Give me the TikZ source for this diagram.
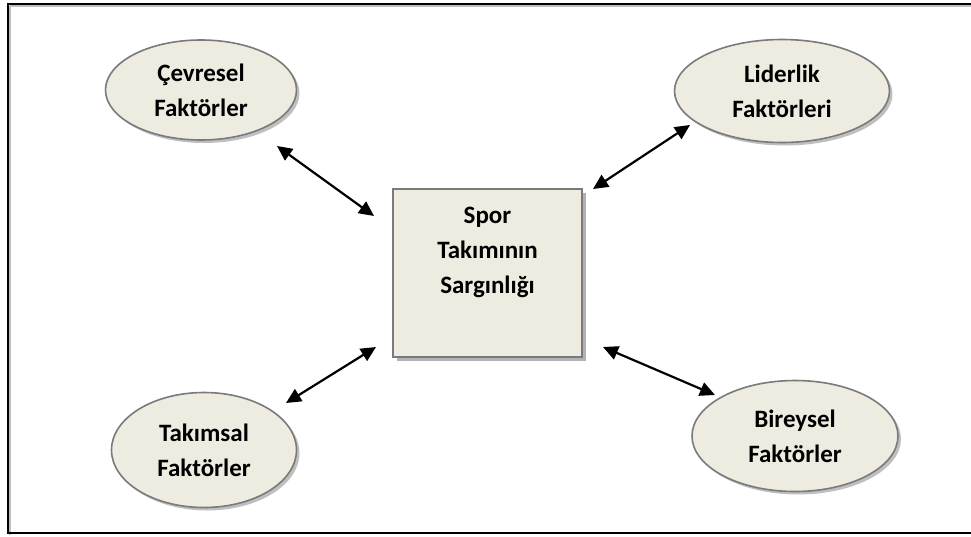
\documentclass[tikz,border=0pt]{standalone}
\usepackage{fontspec}
\setmainfont{Carlito}
\usetikzlibrary{arrows.meta,shapes.geometric,shadows}
\definecolor{beige}{HTML}{EEECE1}
\definecolor{edge}{HTML}{7A7A7A}
\tikzset{
  factor/.style={ellipse, draw=edge, line width=1.6pt, fill=beige, inner sep=0pt,
    align=center, font=\fontsize{25}{35}\selectfont\bfseries,
    drop shadow={shadow xshift=3pt, shadow yshift=-3pt, fill=black, opacity=0.25}},
  corebox/.style={rectangle, draw=edge, line width=1.8pt, fill=beige, inner sep=0pt,
    drop shadow={shadow xshift=4pt, shadow yshift=-4pt, fill=black, opacity=0.3}},
  corelabel/.style={align=center, font=\fontsize{25}{35}\selectfont\bfseries},
  dbl/.style={line width=2.2pt, {Triangle[length=15pt,width=14pt]}-{Triangle[length=15pt,width=14pt]}}
}
\begin{document}
\begin{tikzpicture}[x=1pt,y=-1pt]
\useasboundingbox (0,0) rectangle (971,536);
% outer frame (right edge lies outside the picture)
\draw[line width=2.5pt, black!25] (10,6) -- (980,6);
\draw[line width=2.5pt, black!25] (10,6) -- (10,535);
\draw[line width=1.8pt] (980,4) -- (8,4) -- (8,533) -- (980,533);

\node[corebox, minimum width=189pt, minimum height=168pt] (core) at (487.5,273) {};
\node[corelabel] (corelab) at (487.5,252) {Spor\\Takımının\\Sargınlığı};

\node[factor, minimum width=191pt, minimum height=100pt] (cev) at (201,90) {Çevresel\\Faktörler};
\node[factor, minimum width=215pt, minimum height=103pt] (lid) at (782,91) {Liderlik\\Faktörleri};
\node[factor, minimum width=185pt, minimum height=115pt] (tak) at (204,450) {Takımsal\\Faktörler};
\node[factor, minimum width=206pt, minimum height=111pt] (bir) at (795,436) {Bireysel\\Faktörler};

\coordinate (c1) at (277,146);
\coordinate (k1) at (374,216);
\coordinate (c2) at (690,125);
\coordinate (k2) at (593,189);
\coordinate (c3) at (286,403);
\coordinate (k3) at (376,347);
\coordinate (c4) at (715,395);
\coordinate (k4) at (603,347);

\draw[dbl] (c1) -- (k1);
\draw[dbl] (c2) -- (k2);
\draw[dbl] (c3) -- (k3);
\draw[dbl] (c4) -- (k4);
\end{tikzpicture}
\end{document}
